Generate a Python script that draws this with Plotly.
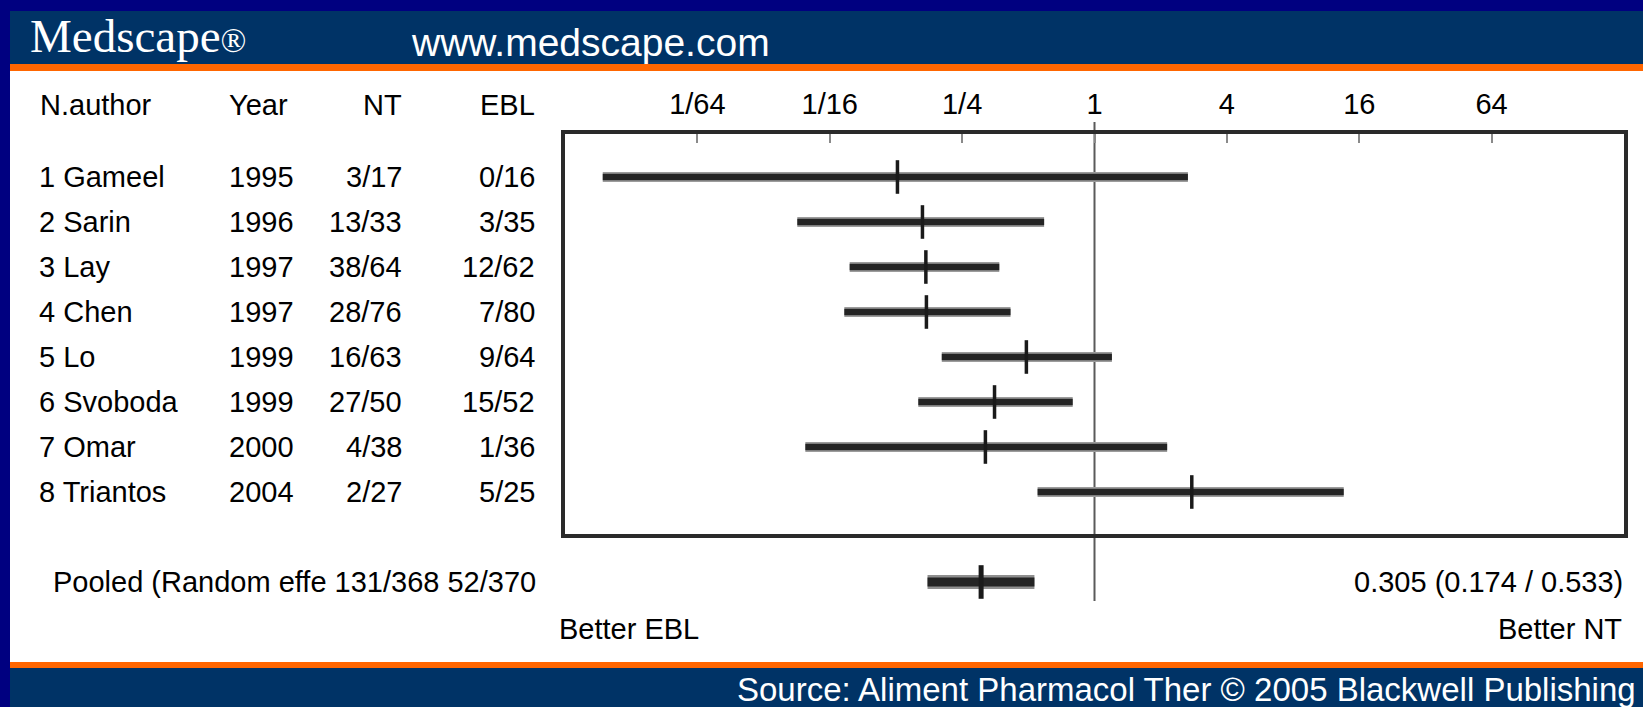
import numpy as np
import plotly.graph_objects as go

W, H = 1643, 707

# ---------------- data ----------------
authors = ["Gameel", "Sarin", "Lay", "Chen", "Lo", "Svoboda", "Omar", "Triantos"]
years = ["1995", "1996", "1997", "1997", "1999", "1999", "2000", "2004"]
nt_events = ["3/17", "13/33", "38/64", "28/76", "16/63", "27/50", "4/38", "2/27"]
ebl_events = ["0/16", "3/35", "12/62", "7/80", "9/64", "15/52", "1/36", "5/25"]
or_point = [0.127, 0.165, 0.171, 0.172, 0.49, 0.351, 0.319, 2.77]
or_lo = [0.0058, 0.0445, 0.077, 0.0728, 0.202, 0.158, 0.0484, 0.551]
or_hi = [2.66, 0.59, 0.369, 0.415, 1.20, 0.796, 2.14, 13.6]

pooled_label = "Pooled (Random effe 131/368 52/370"
pooled_point = [0.305]
pooled_lo = [0.174]
pooled_hi = [0.533]
pooled_text = "0.305 (0.174 / 0.533)"

tick_vals = [1/64, 1/16, 1/4, 1, 4, 16, 64]
tick_text = ["1/64", "1/16", "1/4", "1", "4", "16", "64"]
x_range = [1/256, 256]
ref_value = [1, 1]

rows = list(range(1, len(authors) + 1))
pooled_row = [10]

FONT = "Liberation Sans"
BODY = 29
NAVY = "#000080"
BAND = "#003366"
ORANGE = "#FF6600"


def px(x):
    return x / W


def py(y):
    return 1 - y / H


def segs(lo, hi, ys):
    xs, yy = [], []
    for a, b, r in zip(lo, hi, ys):
        xs += [a, b, None]
        yy += [r, r, None]
    return xs, yy


fig = go.Figure()

# reference line at OR = 1
fig.add_trace(go.Scatter(x=ref_value, y=[-0.22, 10.42], mode="lines",
                         line=dict(color="#5a5a5a", width=2),
                         hoverinfo="skip", showlegend=False))

# study CIs
sx, sy = segs(or_lo, or_hi, rows)
fig.add_trace(go.Scatter(x=sx, y=sy, mode="lines",
                         line=dict(color="#9c9c9c", width=10),
                         hoverinfo="skip", showlegend=False))
fig.add_trace(go.Scatter(x=sx, y=sy, mode="lines",
                         line=dict(color="#242424", width=6.5),
                         hoverinfo="skip", showlegend=False))
fig.add_trace(go.Scatter(x=or_point, y=rows, mode="markers",
                         marker=dict(symbol="line-ns", size=24,
                                     line=dict(color="#1a1a1a", width=3.5)),
                         showlegend=False))

# pooled estimate
pxs, pys = segs(pooled_lo, pooled_hi, pooled_row)
fig.add_trace(go.Scatter(x=pxs, y=pys, mode="lines",
                         line=dict(color="#8f8f8f", width=14),
                         hoverinfo="skip", showlegend=False))
fig.add_trace(go.Scatter(x=pxs, y=pys, mode="lines",
                         line=dict(color="#242424", width=9),
                         hoverinfo="skip", showlegend=False))
fig.add_trace(go.Scatter(x=pooled_point, y=pooled_row, mode="markers",
                         marker=dict(symbol="line-ns", size=24,
                                     line=dict(color="#1a1a1a", width=5)),
                         showlegend=False))

# dummy trace for the framed box subplot
fig.add_trace(go.Scatter(x=[1], y=[0.5], yaxis="y2", mode="markers",
                         marker=dict(opacity=0), hoverinfo="skip", showlegend=False))

# ---------------- background bands ----------------
def band(x0, x1, y0, y1, color):
    return dict(type="rect", xref="paper", yref="paper", x0=px(x0), x1=px(x1),
                y0=py(y1), y1=py(y0), fillcolor=color, line=dict(width=0), layer="below")


shapes = [
    band(0, W + 5, -5, 11, NAVY),
    band(-5, 10, -5, H + 5, NAVY),
    band(10, W + 5, 11, 64, BAND),
    band(10, W + 5, 64, 71, ORANGE),
    band(10, W + 5, 662, 668, ORANGE),
    band(10, W + 5, 668, H + 5, BAND),
]

# ---------------- text ----------------
ann = []


def txt(text, x, y, xanchor="left", size=BODY, color="black", family=FONT, yref="paper"):
    ann.append(dict(text=text, x=px(x), y=(py(y) if yref == "paper" else y),
                    xref="paper", yref=yref, xanchor=xanchor, yanchor="middle",
                    showarrow=False, font=dict(size=size, color=color, family=family)))


txt("Medscape<span style='font-size:34px'>®</span>", 28, 36, size=47, color="white",
    family="Liberation Serif")
txt("www.medscape.com", 409, 42, size=39, color="white")

# column headers
txt("N.author", 38, 105)
txt("Year", 227, 105)
txt("NT", 404, 105, xanchor="right")
txt("EBL", 537, 105, xanchor="right")

for i, r in enumerate(rows):
    txt(f"{i + 1} {authors[i]}", 37, r, yref="y")
    txt(years[i], 227, r, yref="y")
    txt(nt_events[i], 404, r, xanchor="right", yref="y")
    txt(ebl_events[i], 537, r, xanchor="right", yref="y")

txt(pooled_label, 51, pooled_row[0], yref="y")
txt(pooled_text, 1625, pooled_row[0], xanchor="right", yref="y")
txt("Better EBL", 557, 629)
txt("Better NT", 1624, 629, xanchor="right")

txt("Source: Aliment Pharmacol Ther © 2005 Blackwell Publishing", 1638, 689,
    xanchor="right", size=33, color="white")

fig.update_layout(
    width=W, height=H, autosize=False,
    margin=dict(l=0, r=0, t=0, b=0, pad=0),
    paper_bgcolor="white", plot_bgcolor="rgba(0,0,0,0)",
    showlegend=False,
    shapes=shapes, annotations=ann,
    xaxis=dict(type="log", range=[np.log10(x_range[0]), np.log10(x_range[1])],
               domain=[px(565), px(1624)], anchor="y2", side="top",
               tickmode="array", tickvals=tick_vals, ticktext=tick_text,
               ticks="inside", ticklen=9, tickwidth=2, tickcolor="#8a8a8a",
               showline=True, mirror=True, linewidth=4, linecolor="#2a2a2a",
               showgrid=False, zeroline=False, ticklabelstandoff=4,
               tickfont=dict(size=BODY, color="black", family=FONT)),
    yaxis=dict(domain=[py(612), py(118)], range=[10.667, -0.311], visible=False,
               anchor="x", showgrid=False, zeroline=False),
    yaxis2=dict(domain=[py(534), py(133.5)], range=[0, 1], anchor="x",
                showline=True, mirror=True, linewidth=4, linecolor="#2a2a2a",
                showticklabels=False, ticks="", showgrid=False, zeroline=False),
)

fig.write_html("out.html", config={"displayModeBar": False},
               post_script="document.body.style.margin='0';document.body.style.overflow='hidden';"
                           "document.body.style.background='white';")
